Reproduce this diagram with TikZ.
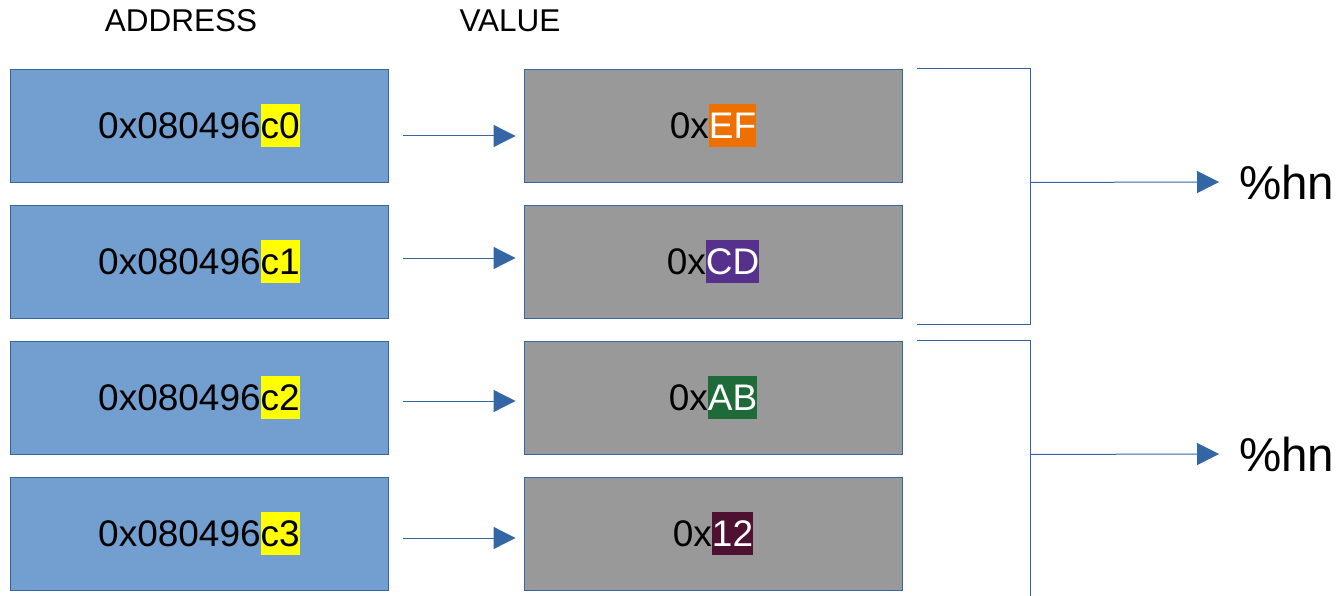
\documentclass[tikz,border=0pt]{standalone}
\usepackage{fontspec}
\setmainfont{Liberation Sans}
\usetikzlibrary{arrows.meta,calc}

\definecolor{addrfill}{HTML}{729FCF}
\definecolor{edge}{HTML}{3465A4}
\definecolor{valfill}{HTML}{999999}
\definecolor{hlyellow}{HTML}{FFFF00}
\definecolor{hlorange}{HTML}{EE7000}
\definecolor{hlpurple}{HTML}{55308D}
\definecolor{hlgreen}{HTML}{1E6A39}
\definecolor{hlmaroon}{HTML}{4E1131}

% highlighted run of text, no padding, full line height
\newcommand{\hlbox}[3]{{\setlength{\fboxsep}{0pt}\colorbox{#1}{\rule[-0.22em]{0pt}{1.16em}\color{#2}#3}}}

\tikzset{
  cell/.style={draw=edge, line width=0.9pt, minimum width=378pt, minimum height=113pt,
    inner sep=0pt, font=\fontsize{37}{43}\selectfont},
  addr/.style={cell, fill=addrfill},
  val/.style={cell, fill=valfill},
  head/.style={font=\fontsize{31.5}{38}\selectfont, inner sep=0pt},
  fmt/.style={font=\fontsize{47.5}{56}\selectfont, inner sep=0pt, anchor=west},
  link/.style={draw=edge, line width=1pt, -{Triangle[length=22pt,width=22pt]}},
  brace/.style={draw=edge, line width=1pt}
}

\begin{document}
\begin{tikzpicture}[x=1pt, y=-1pt]
\useasboundingbox (0,0) rectangle (1337,596);

\node[head] (hA) at (181,21) {ADDRESS};
\node[head] (hV) at (510,21) {VALUE};

% address column
\node[addr] (a0) at (199,125.5) {0x080496\hlbox{hlyellow}{black}{c0}};
\node[addr] (a1) at (199,261.5) {0x080496\hlbox{hlyellow}{black}{c1}};
\node[addr] (a2) at (199,397.5) {0x080496\hlbox{hlyellow}{black}{c2}};
\node[addr] (a3) at (199,533.5) {0x080496\hlbox{hlyellow}{black}{c3}};

% value column
\node[val] (v0) at (713,125.5) {0x\hlbox{hlorange}{white}{EF}};
\node[val] (v1) at (713,261.5) {0x\hlbox{hlpurple}{white}{CD}};
\node[val] (v2) at (713,397.5) {0x\hlbox{hlgreen}{white}{AB}};
\node[val] (v3) at (713,533.5) {0x\hlbox{hlmaroon}{white}{12}};

% address -> value
\draw[link] ($(a0.east)+(15,10.5)$) -- ($(v0.west)+(-8,10.5)$);
\draw[link] ($(a1.east)+(15,-3.5)$) -- ($(v1.west)+(-8,-3.5)$);
\draw[link] ($(a2.east)+(15,3.5)$) -- ($(v2.west)+(-8,3.5)$);
\draw[link] ($(a3.east)+(15,4.5)$) -- ($(v3.west)+(-8,4.5)$);

% format specifiers
\node[fmt] (f0) at (1239,182) {\%hn};
\node[fmt] (f1) at (1239,454) {\%hn};

% first pair of bytes
\coordinate (b0t) at ($(v0.north east)+(15,0)$);
\coordinate (b0c) at ($(v0.north east)+(128,0)$);
\coordinate (b0m) at (b0c |- v0.south);
\draw[brace] (b0t) -- (b0c) -- ($(b0c)+(0,256)$) -- ($(b0t)+(0,256)$);
\draw[link] (b0m) -- ($(f0.west)+(-20,0)$);

% second pair of bytes
\coordinate (b1t) at ($(v2.north east)+(15,0)$);
\coordinate (b1c) at ($(v2.north east)+(128,0)$);
\coordinate (b1m) at (b1c |- v2.south);
\draw[brace] (b1t) -- (b1c) -- ($(b1c)+(0,260)$);
\draw[link] (b1m) -- ($(f1.west)+(-20,0)$);
\end{tikzpicture}
\end{document}
